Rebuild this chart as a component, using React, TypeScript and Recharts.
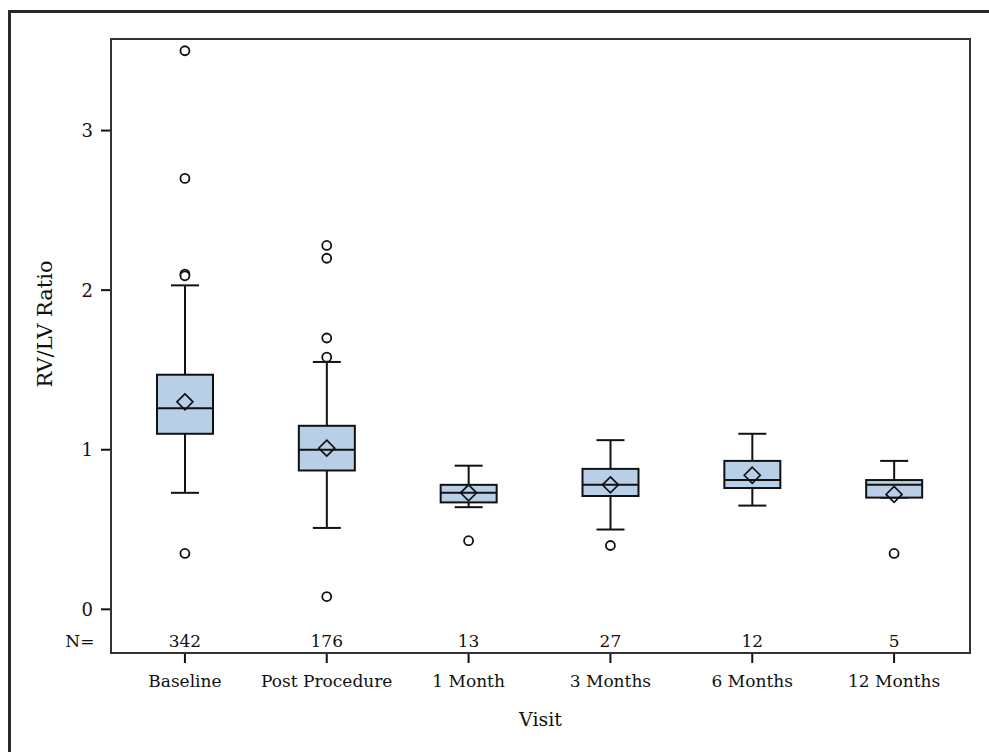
import { ComposedChart, Bar, Line, XAxis, YAxis } from 'recharts';

const visits = ['Baseline', 'Post Procedure', '1 Month', '3 Months', '6 Months', '12 Months'];
const counts = [342, 176, 13, 27, 12, 5];
const whiskerLow = [0.73, 0.51, 0.64, 0.5, 0.65, 0.7];
const q1 = [1.1, 0.87, 0.67, 0.71, 0.76, 0.7];
const medians = [1.26, 1.0, 0.73, 0.78, 0.81, 0.78];
const q3 = [1.47, 1.15, 0.78, 0.88, 0.93, 0.81];
const whiskerHigh = [2.03, 1.55, 0.9, 1.06, 1.1, 0.93];
const means = [1.3, 1.01, 0.73, 0.78, 0.84, 0.72];
const outliers = [
  [3.5, 2.7, 2.1, 2.09, 0.35],
  [2.28, 2.2, 1.7, 1.58, 0.08],
  [0.43],
  [0.4],
  [],
  [0.35],
];
const yTicks = [0, 1, 2, 3];

const FONT = '"DejaVu Serif", serif';
const INK = '#111';
const BOX_FILL = '#b9cfe8';

const data = visits.map((visit, i) => {
  const row: any = {
    visit,
    n: counts[i],
    box: [q1[i], q3[i]],
    lo: whiskerLow[i],
    med: medians[i],
    hi: whiskerHigh[i],
    mean: means[i],
  };
  outliers[i].forEach((v, k) => { row[`o${k + 1}`] = v; });
  return row;
});

// box shape: rect from the bar's own q1..q3 pixels, whiskers/median mapped linearly from it
function BoxShape(props: any) {
  const { x, y, width, height, payload } = props;
  if (x == null || y == null) return <g />;
  const top = Math.min(y, y + height);
  const bot = Math.max(y, y + height);
  const [a, b] = payload.box;
  const px = (v: number) => bot - ((v - a) / (b - a)) * (bot - top);
  const cx = x + width / 2;
  const cap = width / 4;
  return (
    <g stroke={INK} strokeWidth={2}>
      <line x1={cx} x2={cx} y1={px(payload.hi)} y2={top} />
      <line x1={cx} x2={cx} y1={bot} y2={px(payload.lo)} />
      <line x1={cx - cap} x2={cx + cap} y1={px(payload.hi)} y2={px(payload.hi)} />
      <line x1={cx - cap} x2={cx + cap} y1={px(payload.lo)} y2={px(payload.lo)} />
      <rect x={x} y={top} width={width} height={bot - top} fill={BOX_FILL} />
      <line x1={x} x2={x + width} y1={px(payload.med)} y2={px(payload.med)} />
    </g>
  );
}

function Diamond(props: any) {
  const { cx, cy, index } = props;
  if (cx == null || cy == null) return <g key={`d-${index}`} />;
  const s = 8;
  return (
    <polygon key={`d-${index}`}
      points={`${cx},${cy - s} ${cx + s},${cy} ${cx},${cy + s} ${cx - s},${cy}`}
      fill="none" stroke={INK} strokeWidth={1.7}
    />
  );
}

function OutlierDot(props: any) {
  const { cx, cy, index, dataKey } = props;
  if (cx == null || cy == null || props.value == null) return <g key={`${dataKey}-${index}`} />;
  return <circle key={`${dataKey}-${index}`} cx={cx} cy={cy} r={4.5} fill="#fff" stroke={INK} strokeWidth={1.8} />;
}

function VisitTick(props: any) {
  const { x, y, payload, index } = props;
  const axisY = y - 22;
  return (
    <g fontFamily={FONT} fontSize={17} fill={INK}>
      <text x={x} y={axisY - 6} textAnchor="middle" fill={INK}>{counts[index]}</text>
      {index === 0 && <text x={x - 105} y={axisY - 6} textAnchor="middle" fill={INK}>N=</text>}
      <text x={x} y={y} dy="0.71em" textAnchor="middle" fill={INK}>{payload.value}</text>
    </g>
  );
}

export default function App() {
  return (
    <div style={{ position: 'absolute', left: 0, top: 0, width: 989, height: 752, overflow: 'hidden', background: '#fff' }}>
      <div style={{ position: 'absolute', left: 8, top: 10, width: 1200, height: 1000, border: '3px solid #2a2a2a' }} />
      <ComposedChart width={989} height={752} data={data}
        margin={{ top: 38, right: 18, bottom: 8, left: 50 }}
      >
        <XAxis dataKey="visit" type="category" interval={0} axisLine={false}
          tickLine={{ stroke: INK, strokeWidth: 2 }} tickSize={9} tickMargin={12}
          height={90} padding={{ left: 4, right: 6 }} tick={<VisitTick />}
          label={{ value: 'Visit', position: 'insideBottom', offset: 18, fontFamily: FONT, fontSize: 19, fill: INK }}
        />
        <YAxis type="number" domain={[-0.28, 3.58]} ticks={yTicks} allowDataOverflow
          width={60} axisLine={false} tickLine={{ stroke: INK, strokeWidth: 2 }}
          tickSize={9} tickMargin={8}
          tick={{ fontFamily: FONT, fontSize: 18, fill: INK }}
          label={{ value: 'RV/LV Ratio', angle: -90, position: 'center', dx: -35, dy: -22, fontFamily: FONT, fontSize: 21, fill: INK }}
        />
        <Bar dataKey="box" barSize={56} shape={<BoxShape />} isAnimationActive={false} legendType="none" />
        <Line dataKey="mean" stroke="none" dot={<Diamond />} activeDot={false} isAnimationActive={false} legendType="none" />
        {[1, 2, 3, 4, 5].map((k) => (
          <Line key={k} dataKey={`o${k}`} stroke="none" dot={<OutlierDot />} activeDot={false}
            isAnimationActive={false} legendType="none" />
        ))}
      </ComposedChart>
      <div style={{ position: 'absolute', left: 110, top: 38, width: 861, height: 616, border: '2px solid #333', boxSizing: 'border-box', pointerEvents: 'none' }} />
    </div>
  );
}
